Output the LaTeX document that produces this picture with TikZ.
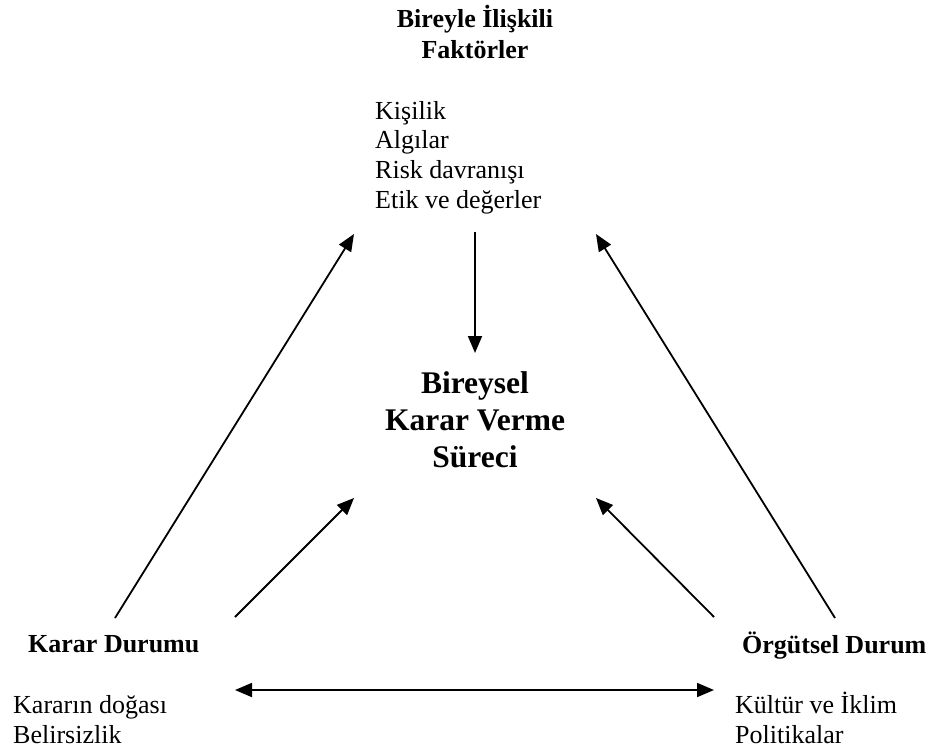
\documentclass[tikz,border=0pt]{standalone}
\usepackage{fontspec}
\setmainfont{Liberation Serif}
\usetikzlibrary{arrows.meta, positioning}

\begin{document}
\begin{tikzpicture}[
    x=1pt, y=-1pt,
    head/.style={inner sep=0pt, font=\fontsize{26}{31}\selectfont\bfseries, align=center},
    list/.style={inner sep=0pt, font=\fontsize{26}{29.5}\selectfont, align=left},
    core/.style={inner sep=0pt, font=\fontsize{31.5}{37}\selectfont\bfseries, align=center},
    arr/.style={-{Triangle[length=17pt, width=14pt]}, line width=1.8pt},
    dbl/.style={{Triangle[length=17pt, width=14pt]}-{Triangle[length=17pt, width=14pt]}, line width=1.8pt}
  ]
    \useasboundingbox (0,0) rectangle (933,751);

    % texts (base = baseline of the last line)
    \node[head, anchor=base] (fh) at (475,59) {Bireyle İlişkili\\Faktörler};
    \node[list, anchor=base west] (fl) at (375,208) {Kişilik\\Algılar\\Risk davranışı\\Etik ve değerler};
    \node[core, anchor=base] (k) at (475,467) {Bireysel\\Karar Verme\\Süreci};
    \node[head, anchor=base west] (kh) at (28,652) {Karar Durumu};
    \node[list, anchor=base west] (kl) at (13,743) {Kararın doğası\\Belirsizlik};
    \node[head, anchor=base west] (oh) at (742,653) {Örgütsel Durum};
    \node[list, anchor=base west] (ol) at (735,743) {Kültür ve İklim\\Politikalar};

    % arrow ends
    \coordinate (f-out) at (475,232);
    \coordinate (k-in)  at (475,353);
    \coordinate (f-inl) at (354,234);
    \coordinate (f-inr) at (596,234);
    \coordinate (k-inl) at (354,498);
    \coordinate (k-inr) at (596,498);
    \coordinate (kd-a)  at (115,618);
    \coordinate (kd-b)  at (235,617);
    \coordinate (od-a)  at (835,618);
    \coordinate (od-b)  at (714,617);
    \coordinate (h-l)   at (235,690);
    \coordinate (h-r)   at (714,690);

    \draw[arr] (f-out) -- (k-in);
    \draw[arr] (kd-a) -- (f-inl);
    \draw[arr] (od-a) -- (f-inr);
    \draw[arr] (kd-b) -- (k-inl);
    \draw[arr] (od-b) -- (k-inr);
    \draw[dbl] (h-l) -- (h-r);
  \end{tikzpicture}
\end{document}
